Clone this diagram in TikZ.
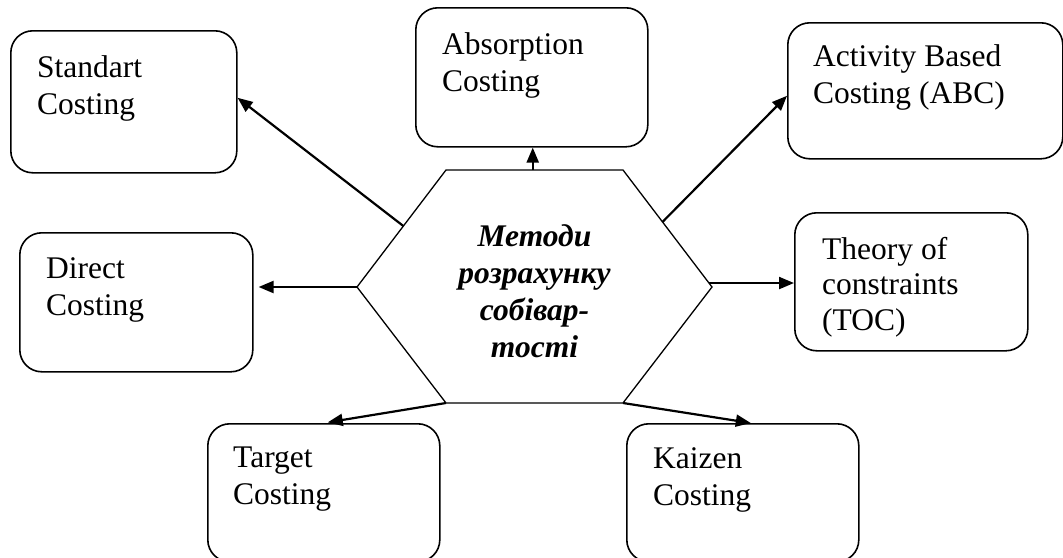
\documentclass[tikz,border=0pt]{standalone}
\usepackage{fontspec}
\setmainfont{Liberation Serif}
\usetikzlibrary{arrows.meta,calc}
\begin{document}
\begin{tikzpicture}[x=1pt,y=-1pt,
  box/.style={draw, line width=1.6pt, rounded corners=22pt, inner sep=0pt},
  lbl/.style={anchor=north west, inner sep=0pt, align=left,
              font=\fontsize{31.5}{37}\selectfont},
  title/.style={anchor=north, inner sep=0pt, align=center,
                font=\fontsize{31.5}{37}\selectfont\bfseries\itshape},
  hexline/.style={draw, line width=1.3pt, line join=miter},
  link/.style={line width=2.2pt, -{Triangle[length=15pt,width=12pt]}},
]
\clip (0,0) rectangle (1063,557);

% central hexagon
\coordinate (hx-tl) at (446,170);
\coordinate (hx-tr) at (623,170);
\coordinate (hx-r)  at (712,287);
\coordinate (hx-br) at (623,403);
\coordinate (hx-bl) at (446,403);
\coordinate (hx-l)  at (357,287);
\path[hexline] (hx-tl) -- (hx-tr) -- (hx-r) -- (hx-br) -- (hx-bl) -- (hx-l) -- cycle;
\node[title] (hex) at (534.5,224) {Методи\\розрахунку\\собівар-\\тості};

% arrow start points on the hexagon border
\coordinate (h-std) at ($(hx-l)!0.521!(hx-tl)$);
\coordinate (h-abs) at ($(hx-tl)!0.49!(hx-tr)$);
\coordinate (h-abc) at ($(hx-r)!0.556!(hx-tr)$);
\coordinate (h-toc) at ($(hx-r)!0.034!(hx-tr)$);

% method boxes
\node[box, anchor=north west, minimum width=226pt, minimum height=142pt] (std) at (10,30) {};
\node[lbl] (std-t) at (37,55) {Standart\\Costing};

\node[box, anchor=north west, minimum width=232pt, minimum height=139pt] (abs) at (415,7) {};
\node[lbl] (abs-t) at (442,32) {Absorption\\Costing};

\node[box, anchor=north west, minimum width=275pt, minimum height=136pt] (abc) at (787,22) {};
\node[lbl] (abc-t) at (813,44) {Activity Based\\Costing (ABC)};

\node[box, anchor=north west, minimum width=233pt, minimum height=139pt] (dir) at (19,232) {};
\node[lbl] (dir-t) at (46,257) {Direct\\Costing};

\node[box, anchor=north west, minimum width=233pt, minimum height=138pt] (toc) at (794,212) {};
\node[lbl, font=\fontsize{31.5}{35.5}\selectfont] (toc-t) at (822,237) {Theory of\\constraints\\(TOC)};

\node[box, anchor=north west, minimum width=232pt, minimum height=138pt] (tgt) at (207,423) {};
\node[lbl] (tgt-t) at (233,447) {Target\\Costing};

\node[box, anchor=north west, minimum width=232pt, minimum height=138pt] (kai) at (626,423) {};
\node[lbl] (kai-t) at (653,447) {Kaizen\\Costing};

% connectors
\draw[link] (h-std) -- ([yshift=4pt]std.east);
\draw[link] (h-abs) -- (h-abs |- abs.south);
\draw[link] (h-abc) -- ([yshift=-5pt]abc.west);
\draw[link, shorten >=5pt] (hx-l) -- (hx-l -| dir.east);
\draw[link] (h-toc) -- (h-toc -| toc.west);
\draw[link, shorten >=4pt] (hx-bl) -- (tgt.north);
\draw[link] (hx-br) -- ([xshift=8pt]kai.north);
\end{tikzpicture}
\end{document}
